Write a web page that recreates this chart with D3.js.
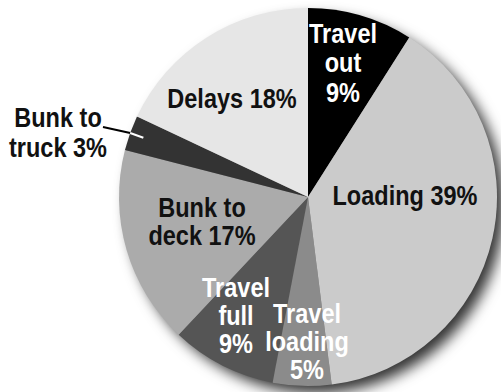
<!DOCTYPE html>
<html>
<head>
<meta charset="utf-8">
<script src="https://cdn.jsdelivr.net/npm/d3@7"></script>
<style>
  html, body { margin: 0; padding: 0; background: #fff; }
  svg { display: block; }
  text { font-family: "Liberation Sans", Arial, sans-serif; font-weight: bold; font-size: 28px; }
</style>
</head>
<body>
<svg id="chart" width="501" height="392"></svg>
<script>
// Share of cycle time per activity (%)
const categories = ["Travel out", "Loading", "Travel loading", "Travel full", "Bunk to deck", "Bunk to truck", "Delays"];
const shares = [9, 39, 5, 9, 17, 3, 18];
const sliceColors = ["#000000", "#cbcbcb", "#8b8b8b", "#555555", "#ababab", "#333333", "#e6e6e6"];
// Label lines for each slice
const labelLines = [
  ["Travel", "out", "9%"],
  ["Loading 39%"],
  ["Travel", "loading", "5%"],
  ["Travel", "full", "9%"],
  ["Bunk to", "deck 17%"],
  ["Bunk to", "truck 3%"],
  ["Delays 18%"]
];
const labelColors = ["#fff", "#111", "#fff", "#fff", "#111", "#111", "#111"];

const svg = d3.select("#chart");
const cx = 308, cy = 197, radius = 189;

const defs = svg.append("defs");
const shadow = defs.append("filter").attr("id", "pieShadow")
  .attr("x", "-20%").attr("y", "-20%").attr("width", "140%").attr("height", "140%");
shadow.append("feDropShadow")
  .attr("dx", 8).attr("dy", 8).attr("stdDeviation", 7)
  .attr("flood-color", "#000").attr("flood-opacity", 0.8);

const pie = d3.pie().sort(null).value(d => d)(shares);
const arc = d3.arc().innerRadius(0).outerRadius(radius);

const g = svg.append("g").attr("transform", `translate(${cx},${cy})`);

// Shadow disk under the slices
g.append("circle").attr("r", radius - 1).attr("fill", "#888").attr("filter", "url(#pieShadow)");

g.selectAll("path.slice").data(pie).join("path")
  .attr("class", "slice")
  .attr("d", arc)
  .attr("fill", (d, i) => sliceColors[i]);

// Label anchors: centre x and first baseline, plus line spacing
const labelPos = [
  { x: 343, y: 43, h: 29.5 },
  { x: 405, y: 205, h: 28 },
  { x: 307, y: 323, h: 28 },
  { x: 236, y: 297, h: 28 },
  { x: 202, y: 217, h: 28 },
  { x: 58, y: 127, h: 30 },
  { x: 232, y: 108, h: 28 }
];

labelLines.forEach((lines, i) => {
  const p = labelPos[i];
  const t = svg.append("text")
    .attr("text-anchor", "middle")
    .attr("fill", labelColors[i])
    .attr("transform", `translate(${p.x},0) scale(0.84,1)`);
  lines.forEach((s, k) => {
    t.append("tspan")
      .attr("x", 0)
      .attr("y", p.y + k * p.h)
      .text(s);
  });
});

// Leader from the outside label to its thin slice
const small = pie[5];
const mid = (small.startAngle + small.endAngle) / 2;
const edge = [cx + radius * Math.sin(mid), cy - radius * Math.cos(mid)];
const inner = [cx + (radius - 14) * Math.sin(mid), cy - (radius - 14) * Math.cos(mid)];
svg.append("line").attr("x1", 103).attr("y1", 127).attr("x2", edge[0]).attr("y2", edge[1])
  .attr("stroke", "#000").attr("stroke-width", 2);
svg.append("line").attr("x1", edge[0]).attr("y1", edge[1]).attr("x2", inner[0]).attr("y2", inner[1])
  .attr("stroke", "#fff").attr("stroke-width", 2);
</script>
</body>
</html>
